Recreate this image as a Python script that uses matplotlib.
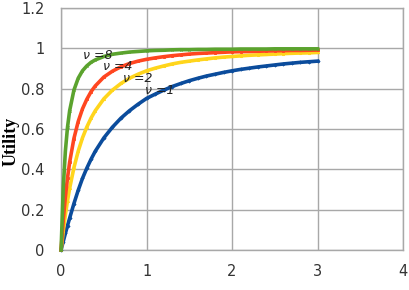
import matplotlib
matplotlib.use("Agg")
import matplotlib.pyplot as plt

# sample points, finer near zero where the curves rise steeply
x_vals = [0.0, 0.025, 0.05, 0.075, 0.1, 0.15, 0.2, 0.25, 0.3, 0.35, 0.4,
          0.5, 0.6, 0.7, 0.8, 0.9, 1.0, 1.1, 1.2, 1.3, 1.4, 1.5, 1.6, 1.7,
          1.8, 1.9, 2.0, 2.1, 2.2, 2.3, 2.4, 2.5, 2.6, 2.7, 2.8, 2.9, 3.0]

u_nu1 = [0.0, 0.042, 0.082, 0.121, 0.158, 0.230, 0.296, 0.355, 0.405, 0.450,
         0.490, 0.556, 0.609, 0.654, 0.691, 0.723, 0.752, 0.773, 0.793, 0.811,
         0.826, 0.840, 0.852, 0.863, 0.872, 0.881, 0.889, 0.896, 0.902, 0.908,
         0.913, 0.918, 0.923, 0.927, 0.931, 0.934, 0.937]
u_nu2 = [0.0, 0.093, 0.174, 0.244, 0.306, 0.408, 0.490, 0.556, 0.609, 0.654,
         0.691, 0.750, 0.793, 0.826, 0.852, 0.872, 0.889, 0.902, 0.913, 0.923,
         0.931, 0.937, 0.943, 0.948, 0.953, 0.957, 0.960, 0.963, 0.966, 0.968,
         0.970, 0.972, 0.974, 0.976, 0.977, 0.978, 0.980]
u_nu4 = [0.0, 0.147, 0.263, 0.357, 0.435, 0.553, 0.637, 0.700, 0.747, 0.785,
         0.814, 0.858, 0.887, 0.909, 0.925, 0.937, 0.946, 0.953, 0.959, 0.964,
         0.968, 0.972, 0.975, 0.977, 0.979, 0.981, 0.983, 0.984, 0.985, 0.986,
         0.987, 0.988, 0.989, 0.990, 0.990, 0.991, 0.992]
u_nu8 = [0.0, 0.306, 0.490, 0.609, 0.691, 0.793, 0.852, 0.889, 0.913, 0.931,
         0.943, 0.960, 0.971, 0.977, 0.982, 0.985, 0.988, 0.990, 0.991, 0.993,
         0.994, 0.994, 0.995, 0.995, 0.996, 0.996, 0.996, 0.997, 0.997, 0.997,
         0.997, 0.998, 0.998, 0.998, 0.998, 0.998, 0.998]

series = [
    (u_nu1, "#0b4c9c", "D", "\u03bd =1", (0.98, 0.79)),
    (u_nu2, "#ffd51c", "^", "\u03bd =2", (0.73, 0.85)),
    (u_nu4, "#ff4620", "s", "\u03bd =4", (0.49, 0.91)),
    (u_nu8, "#5ba32e", "x", "\u03bd =8", (0.26, 0.965)),
]

fig = plt.figure(figsize=(4.1, 2.9), dpi=100)
ax = fig.add_axes([0.149, 0.138, 0.834, 0.834])

for vals, col, mk, lab, pos in series:
    ax.plot(x_vals, vals, color=col, lw=2.6, marker=mk, ms=1.6, mew=0.6,
            mec=col, mfc=col, clip_on=False, zorder=3)
for vals, col, mk, lab, pos in series:
    ax.text(pos[0], pos[1], lab, fontsize=9, color="#222222",
            ha="left", va="center", style="italic", zorder=5)

ax.set_xlim(0, 4)
ax.set_ylim(0, 1.2)
ax.set_xticks([0, 1, 2, 3, 4])
ax.set_yticks([0, 0.2, 0.4, 0.6, 0.8, 1.0, 1.2])
ax.set_yticklabels(["0", "0.2", "0.4", "0.6", "0.8", "1", "1.2"])
ax.grid(True, color="#a8a8a8", lw=1.0)
ax.set_axisbelow(True)
for s in ax.spines.values():
    s.set_color("#a8a8a8")
    s.set_linewidth(1.0)
ax.tick_params(length=0, labelsize=10.5, labelcolor="#333333")
ax.tick_params(axis="y", pad=12)
ax.tick_params(axis="x", pad=10)

ax.set_ylabel("Utility", fontsize=13, fontweight="bold",
              family="Liberation Serif")
ax.yaxis.set_label_coords(-0.121, 0.45)

fig.savefig("out.png", dpi=100)
